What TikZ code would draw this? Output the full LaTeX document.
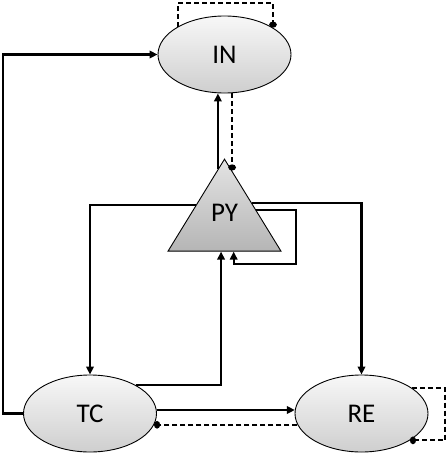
\documentclass[tikz,border=0pt]{standalone}
\usepackage{fontspec}
\setmainfont{Carlito}
\usetikzlibrary{arrows.meta,shapes.geometric,calc}
\tikzset{
  etat/.style={ellipse,draw,line width=0.9pt,top color=gray!6,bottom color=gray!38,
    minimum width=133pt,minimum height=77pt,inner sep=0pt,font=\fontsize{27}{30}\selectfont},
  pyr/.style={isosceles triangle,isosceles triangle stretches,shape border rotate=90,draw,
    line width=0.9pt,top color=gray!22,bottom color=gray!58,
    minimum width=113pt,minimum height=92pt,inner sep=0pt,font=\fontsize{27}{30}\selectfont},
  fleche/.style={line width=2.2pt,-{Triangle[length=8pt,width=7.5pt]}},
  retro/.style={line width=2.2pt,dash pattern=on 5pt off 3pt,-{Circle[length=6pt,width=7.5pt]}}
}
\begin{document}
\begin{tikzpicture}[x=1pt,y=-1pt]
	\useasboundingbox (0,0) rectangle (447,458);
	\node[etat] (IN) at (224.5,54.5) {IN};
	\node[etat] (TC) at (90,413.5) {TC};
	\node[etat] (RE) at (361.5,413.5) {RE};
	\node[pyr,anchor=apex] (PY) at (224.5,158) {\raisebox{18pt}{PY}};
	% points sur les cotes du triangle
	\coordinate (PYh1) at ($(PY.apex)!0.115!(PY.left corner)$);
	\coordinate (PYh2) at ($(PY.apex)!0.133!(PY.right corner)$);
	\coordinate (PYg) at ($(PY.apex)!0.5!(PY.left corner)$);
	\coordinate (PYd) at ($(PY.apex)!0.478!(PY.right corner)$);
	\coordinate (PYs) at ($(PY.apex)!0.554!(PY.right corner)$);
	\coordinate (PYb1) at ($(PY.left corner)!0.47!(PY.right corner)$);
	\coordinate (PYb2) at ($(PY.left corner)!0.58!(PY.right corner)$);
	\coordinate (PYboucle) at (296,264);
	\coordinate (INhaut) at (224,3);
	\coordinate (REx) at (445,0);
	\coordinate (gauche) at (3,54.5);
	% liaisons pleines
	\draw[fleche] (PYh1) -- (PYh1 |- IN.south);
	\draw[fleche] (PYg) -| (TC.north);
	\draw[fleche] (PYd) -| (RE.north);
	\draw[fleche] (PYs) -| (PYboucle) -| (PYb2);
	\draw[fleche] (TC.32) -| (PYb1);
	\draw[fleche] (TC.west) -| (gauche) -- (IN.west);
	\draw[fleche] (TC.3) -- (RE.177);
	% liaisons en pointilles
	\draw[retro] (PYh2 |- IN.south) -- (PYh2);
	\draw[retro] (IN.149) |- (INhaut) -| (IN.29);
	\draw[retro] (RE.190) -- (TC.-10);
	\draw[retro] (RE.27) -- (RE.27 -| REx) -- (RE.-29 -| REx) -- (RE.-29);
\end{tikzpicture}
\end{document}
